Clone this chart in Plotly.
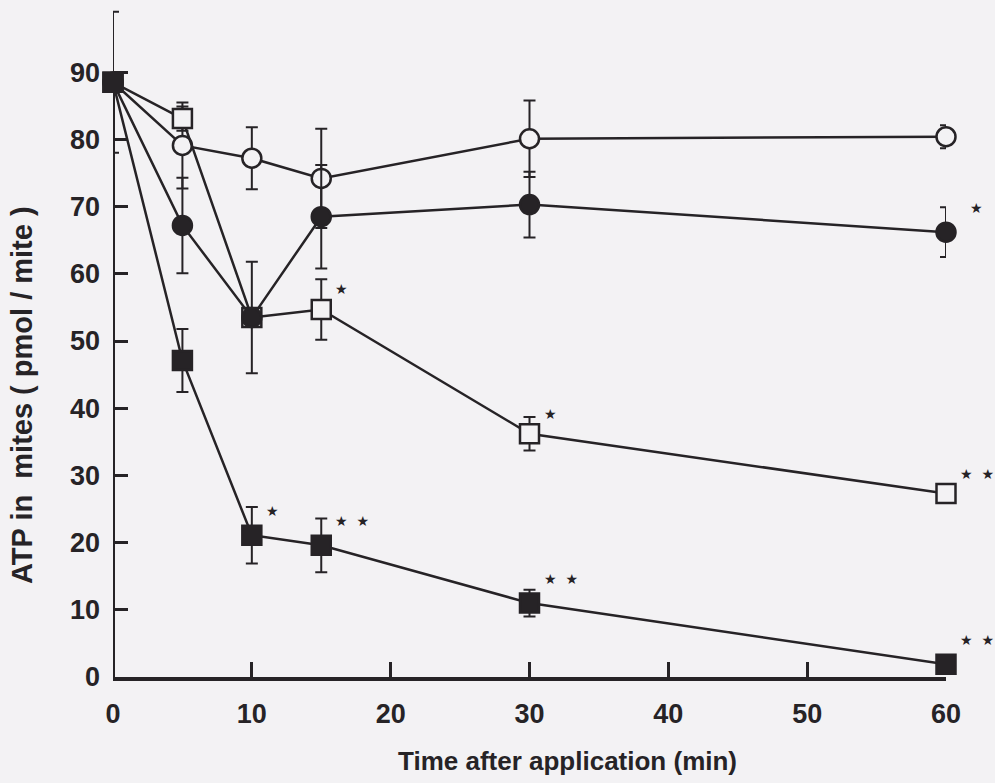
import plotly.graph_objects as go

# ---- data ----
time_min = [0, 5, 10, 15, 30, 60]

open_circle = [88.5, 79.1, 77.2, 74.2, 80.1, 80.4]
open_circle_err = [0, 6.4, 4.6, 7.4, 5.7, 1.7]

filled_circle = [88.5, 67.2, 53.5, 68.5, 70.3, 66.2]
filled_circle_err = [0, 7.1, 0, 7.7, 4.9, 3.7]

open_square = [88.5, 83.1, 53.5, 54.7, 36.2, 27.3]
open_square_err = [0, 1.8, 8.3, 4.5, 2.5, 1.3]

filled_square = [88.5, 47.1, 21.1, 19.6, 11.0, 1.9]
filled_square_err = [10.5, 4.7, 4.2, 4.0, 2.0, 1.0]

# significance marks: (series, index into time_min, label)
sig_marks = [
    ("filled_circle", 5, "★"),
    ("open_square", 3, "★"),
    ("open_square", 4, "★"),
    ("open_square", 5, "★  ★"),
    ("filled_square", 2, "★"),
    ("filled_square", 3, "★  ★"),
    ("filled_square", 4, "★  ★"),
    ("filled_square", 5, "★  ★"),
]

x_ticks = [0, 10, 20, 30, 40, 50, 60]
y_ticks = [0, 10, 20, 30, 40, 50, 60, 70, 80, 90]

x_title = "Time after application (min)"
y_title = "ATP in  mites ( pmol / mite )"

# ---- styling ----
INK = "#262326"
BG = "#f3f2f4"
FONT = "Arial"

series = {
    "open_circle": (open_circle, open_circle_err, "circle", BG),
    "filled_circle": (filled_circle, filled_circle_err, "circle", INK),
    "open_square": (open_square, open_square_err, "square", BG),
    "filled_square": (filled_square, filled_square_err, "square", INK),
}
draw_order = ["open_circle", "open_square", "filled_circle", "filled_square"]

fig = go.Figure()
for name in draw_order:
    vals, errs, sym, fill = series[name]
    fig.add_trace(go.Scatter(
        x=time_min, y=vals, name=name, mode="lines+markers",
        line=dict(color=INK, width=2.5),
        marker=dict(symbol=sym, size=19, color=fill,
                    line=dict(color=INK, width=2.5)),
        error_y=dict(type="data", array=errs, visible=True,
                     color=INK, thickness=2, width=6),
        cliponaxis=False, showlegend=False,
    ))

offsets = {"open_square": (12, 10), "filled_square": (12, 14), "filled_circle": (22, 14)}
for name, idx, label in sig_marks:
    vals = series[name][0]
    dx, dy = offsets[name]
    fig.add_annotation(
        x=time_min[idx], y=vals[idx], text=label, showarrow=False,
        xanchor="left", yanchor="bottom", xshift=dx, yshift=dy,
        font=dict(family="DejaVu Sans", size=14, color=INK),
    )

# axis titles
fig.add_annotation(
    x=0.546, y=-0.125, xref="paper", yref="paper", text=x_title,
    showarrow=False, xanchor="center", yanchor="middle",
    font=dict(family=FONT, size=26, color=INK, weight="bold"),
)
fig.add_annotation(
    x=-0.109, y=0.42, xref="paper", yref="paper", text=y_title,
    showarrow=False, textangle=-90, xanchor="center", yanchor="middle",
    font=dict(family=FONT, size=29, color=INK, weight="bold"),
)

# y axis line drawn up to 90 only
fig.add_shape(type="line", xref="x", yref="y", x0=0, x1=0, y0=0, y1=90,
              line=dict(color=INK, width=4), layer="below")

tick_font = dict(family=FONT, size=27, color=INK, weight="bold")
fig.update_layout(
    width=995, height=783,
    margin=dict(l=113, r=49, t=5, b=106),
    paper_bgcolor=BG, plot_bgcolor=BG,
    xaxis=dict(
        range=[0, 60], tickvals=x_ticks, ticks="inside", ticklen=15,
        tickwidth=3, tickcolor=INK, showline=True, linewidth=4, linecolor=INK,
        showgrid=False, zeroline=False, tickfont=tick_font,
        ticklabelstandoff=10,
    ),
    yaxis=dict(
        range=[0, 100], tickvals=y_ticks, ticks="inside", ticklen=15,
        tickwidth=3, tickcolor=INK, showline=False,
        showgrid=False, zeroline=False, tickfont=tick_font,
        ticklabelstandoff=12,
    ),
)

fig.write_html("out.html", config={"displayModeBar": False},
               post_script="document.body.style.margin='0';")
